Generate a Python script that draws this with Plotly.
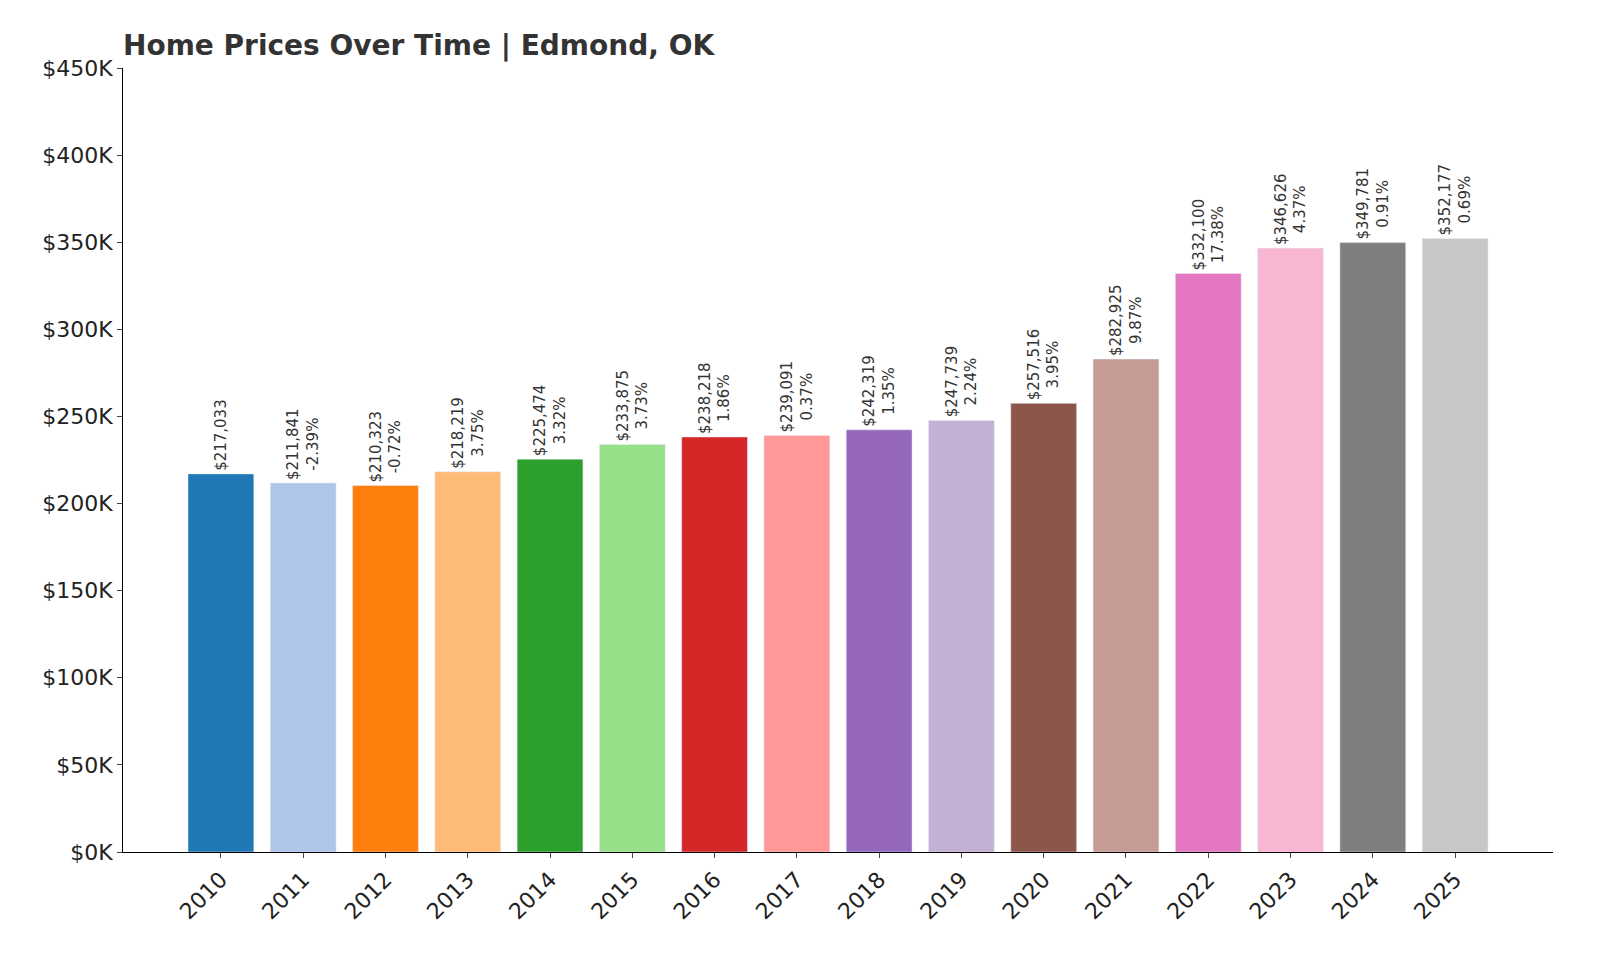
import plotly.graph_objects as go

years = [str(y) for y in range(2010, 2026)]
values = [217033, 211841, 210323, 218219, 225474, 233875, 238218, 239091, 242319, 247739, 257516, 282925, 332100, 346626, 349781, 352177]
pcts = [None, -2.39, -0.72, 3.75, 3.32, 3.73, 1.86, 0.37, 1.35, 2.24, 3.95, 9.87, 17.38, 4.37, 0.91, 0.69]
colors = ["#1f77b4", "#aec7e8", "#ff7f0e", "#ffbb78", "#2ca02c", "#98df8a", "#d62728", "#ff9896",
          "#9467bd", "#c5b0d5", "#8c564b", "#c49c94", "#e377c2", "#f7b6d2", "#7f7f7f", "#c7c7c7"]
tickvals = [0, 50000, 100000, 150000, 200000, 250000, 300000, 350000, 400000, 450000]
ticktext = ["$0K", "$50K", "$100K", "$150K", "$200K", "$250K", "$300K", "$350K", "$400K", "$450K"]

labels = [(f"${v:,}" if p is None else f"${v:,}<br>{p:.2f}%") for v, p in zip(values, pcts)]

fig = go.Figure(go.Bar(x=years, y=values, marker_color=colors, width=0.8,
                       text=labels, textposition="outside", textangle=-90,
                       constraintext="none", cliponaxis=False,
                       outsidetextfont=dict(size=15, color="#333333", family="DejaVu Sans"),
                       hoverinfo="skip"))

fig.update_layout(
    width=1600, height=960, plot_bgcolor="white", paper_bgcolor="white",
    margin=dict(l=115, r=55, t=60, b=116),
    font=dict(family="DejaVu Sans", color="#222222"),
    title=dict(text="<b>Home Prices Over Time | Edmond, OK</b>", x=115/1600, xanchor="left",
               y=1-37/960, yanchor="middle", font=dict(size=28, color="#333333")),
    showlegend=False,
)
fig.update_yaxes(range=[0, 450000], tickvals=tickvals, ticktext=ticktext, showgrid=False,
                 showline=True, linecolor="black", ticks="outside", tickfont=dict(size=22),
                 zeroline=False, automargin=False)
fig.update_xaxes(tickangle=-45, showgrid=False, showline=True, linecolor="black",
                 ticks="outside", tickfont=dict(size=22), range=[-1.19, 16.19], automargin=False)
fig.write_html("out.html")
